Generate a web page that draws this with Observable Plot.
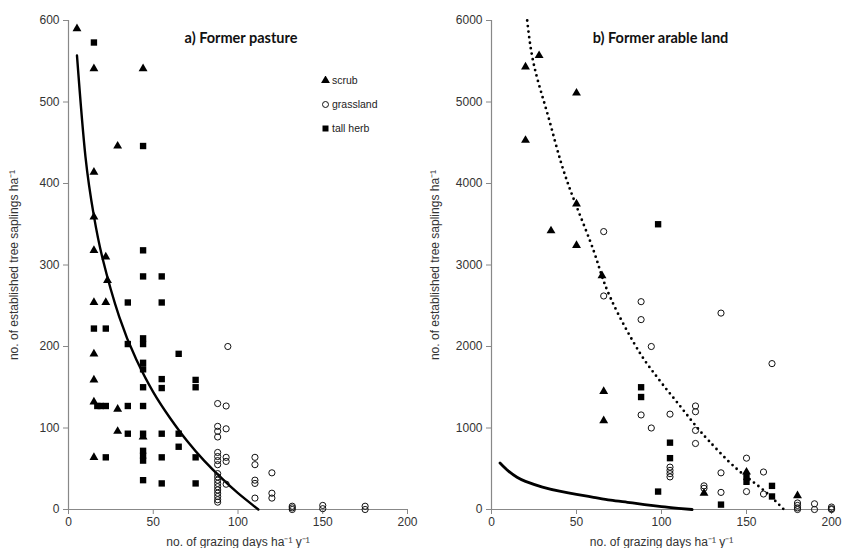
<!DOCTYPE html>
<html><head><meta charset="utf-8">
<script src="https://cdn.jsdelivr.net/npm/d3@7"></script>
<script src="https://cdn.jsdelivr.net/npm/@observablehq/plot@0.6"></script>
<style>
body{margin:0;background:#fff;}
#wrap{position:relative;width:842px;height:548px;display:flex;background:#fff;}
#legend{position:absolute;left:321px;top:74px;font:10.5px "Liberation Sans",Arial,sans-serif;color:#222;}
#legend .it{height:24px;display:flex;align-items:flex-start;}
#legend svg{margin-right:2px;margin-top:2px;}
</style></head><body><div id="wrap"><div id="legend"></div></div>
<script>
// ---- data: panel a) Former pasture ----
const pastureScrub = [[5,590],[15,541],[44,541],[29,446],[15,414],[15,359],[15,318],[22,310],[23,281],[15,254],[22,254],[15,191],[15,159],[15,132],[29,123],[29,96],[15,64],[44,89]];
const pastureGrass = [[94,200],[88,130],[93,127],[88,102],[88,96],[88,89],[93,99],[88,70],[88,65],[88,60],[88,55],[93,64],[93,59],[88,44],[88,40],[88,36],[88,32],[88,28],[88,24],[88,20],[88,16],[88,12],[88,9],[93,31],[110,64],[110,55],[110,36],[110,32],[110,14],[120,45],[120,20],[120,14],[132,4],[132,2],[132,0],[150,5],[150,1],[175,4],[175,0]];
const pastureHerb = [[15,573],[44,446],[44,318],[44,286],[55,286],[35,254],[55,254],[15,222],[22,222],[35,203],[44,210],[44,203],[65,191],[44,180],[44,172],[55,160],[55,149],[44,150],[75,159],[75,150],[17,127],[19,127],[22,127],[35,127],[44,127],[35,93],[44,93],[55,93],[65,93],[65,77],[22,64],[44,72],[44,66],[44,60],[55,64],[75,64],[44,36],[55,32],[75,32]];
const pastureFit = [[5,557],[10,433],[15,360],[20,309],[30,236],[40,184],[50,144],[60,112],[70,84],[80,60],[90,39],[100,20],[112,0]];

// ---- data: panel b) Former arable land ----
const arableScrub = [[20,5430],[28,5570],[50,5110],[20,4530],[50,3750],[35,3420],[50,3240],[65,2870],[66,1450],[66,1090],[125,200],[150,460],[180,170]];
const arableGrass = [[66,3410],[66,2620],[88,2550],[88,2330],[135,2410],[94,2000],[165,1790],[88,1160],[94,1000],[105,1170],[120,1270],[120,1200],[120,970],[120,810],[105,520],[105,480],[105,440],[105,400],[125,290],[125,260],[135,450],[135,210],[150,630],[150,220],[160,460],[160,190],[180,80],[180,50],[180,20],[180,0],[190,70],[190,0],[200,30],[200,10],[200,0]];
const arableHerb = [[98,3500],[88,1500],[88,1380],[98,220],[105,820],[105,630],[135,60],[150,400],[150,340],[165,290],[165,160]];
const arableFitSolid = [[5,570],[10,470],[15,395],[20,345],[30,275],[40,225],[50,185],[60,150],[70,115],[80,88],[90,60],[100,35],[110,15],[118,0]];
const arableFitDotted = [[21,6000],[25,5450],[33,4850],[41,4250],[50,3720],[60,3180],[66,2800],[75,2380],[87,1930],[95,1690],[102,1500],[109,1320],[120,1030],[128,840],[139,600],[150,400],[161,220],[172,0]];

const xTicks = [0,50,100,150,200];
const pastureYTicks = [0,100,200,300,400,500,600];
const arableYTicks = [0,1000,2000,3000,4000,5000,6000];
const legendItems = ["scrub","grassland","tall herb"];
const titles = ["a) Former pasture","b) Former arable land"];
const xLabel = "no. of grazing days ha\u207B\u00B9 y\u207B\u00B9";
const yLabel = "no. of established tree saplings ha\u207B\u00B9";

const toObj = a => a.map(([x,y]) => ({x,y}));

function panel({scrub, grass, herb, fits, yMax, yTicks, mL, mR, title, titleDx, yLabelOffset}) {
  return Plot.plot({
    width: 421, height: 548,
    marginLeft: mL, marginRight: mR, marginTop: 20, marginBottom: 39,
    x: {domain: [0, 200]},
    y: {domain: [0, yMax]},
    style: {fontFamily: "'Liberation Sans', Arial, sans-serif", fontSize: "12px", color: "#333", background: "white"},
    marks: [
      Plot.axisX({ticks: xTicks, tickSize: 5, tickPadding: 3, stroke: "#888", fill: "#333",
        label: xLabel, labelAnchor: "center", labelArrow: "none", labelOffset: 36}),
      Plot.axisY({ticks: yTicks, tickSize: 5, tickPadding: 4, tickFormat: "d", stroke: "#888", fill: "#333",
        label: yLabel, labelAnchor: "center", labelArrow: "none", labelOffset: yLabelOffset}),
      Plot.ruleX([0], {stroke: "#888", strokeWidth: 1.2}),
      Plot.ruleY([0], {stroke: "#888", strokeWidth: 1.2}),
      ...fits,
      Plot.dot(toObj(grass), {x: "x", y: "y", symbol: "circle", r: 3.1, stroke: "#111", strokeWidth: 1, fill: "none"}),
      Plot.dot(toObj(herb), {x: "x", y: "y", symbol: "square", r: 3.6, fill: "#000"}),
      Plot.dot(toObj(scrub), {x: "x", y: "y", symbol: "triangle", r: 3.3, fill: "#000"}),
      Plot.text([title], {frameAnchor: "top", dx: titleDx, dy: 12, fontFamily: "Lato, 'Open Sans', sans-serif",
        fontWeight: "bold", fontSize: 14.5, fill: "#111"})
    ]
  });
}

const left = panel({
  scrub: pastureScrub, grass: pastureGrass, herb: pastureHerb,
  fits: [Plot.line(toObj(pastureFit), {x: "x", y: "y", curve: "natural", stroke: "#000", strokeWidth: 2.4})],
  yMax: 600, yTicks: pastureYTicks, mL: 68, mR: 14, title: titles[0], titleDx: 3, yLabelOffset: 59
});
const right = panel({
  scrub: arableScrub, grass: arableGrass, herb: arableHerb,
  fits: [
    Plot.line(toObj(arableFitSolid), {x: "x", y: "y", curve: "natural", stroke: "#000", strokeWidth: 2.8}),
    Plot.line(toObj(arableFitDotted), {x: "x", y: "y", curve: "natural", stroke: "#000", strokeWidth: 2.8,
      strokeDasharray: "0,5.6", strokeLinecap: "round"})
  ],
  yMax: 6000, yTicks: arableYTicks, mL: 70, mR: 11, title: titles[1], titleDx: -1, yLabelOffset: 61
});
const wrap = document.getElementById("wrap");
wrap.insertBefore(right, wrap.firstChild);
wrap.insertBefore(left, wrap.firstChild);

// legend
const legend = d3.select("#legend");
const symTypes = [d3.symbolTriangle, d3.symbolCircle, d3.symbolSquare];
const symSizes = [34, 28, 36];
legendItems.forEach((name, i) => {
  const it = legend.append("div").attr("class", "it");
  const svg = it.append("svg").attr("width", 9).attr("height", 9);
  svg.append("path").attr("transform", "translate(4.5,4.5)")
    .attr("d", d3.symbol().type(symTypes[i]).size(symSizes[i])())
    .attr("fill", i === 1 ? "none" : "#000").attr("stroke", i === 1 ? "#111" : "none");
  it.append("span").text(name);
});
</script>
</body></html>
